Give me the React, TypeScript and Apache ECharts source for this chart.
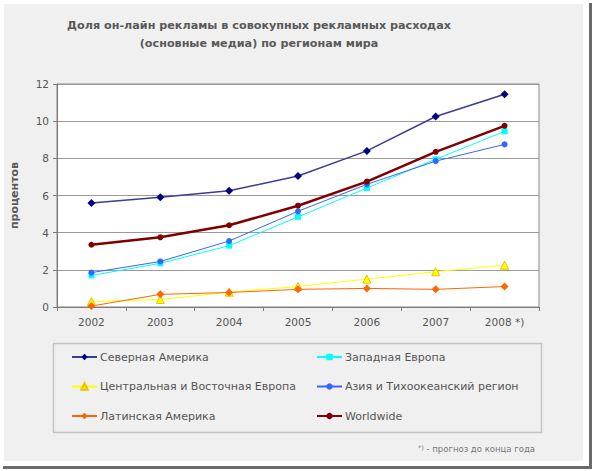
import React, { useEffect, useRef } from "react";
import * as echarts from "echarts";

const categories = ["2002", "2003", "2004", "2005", "2006", "2007", "2008 *)"];
const seriesNames = [
  "Северная Америка",
  "Западная Европа",
  "Центральная и Восточная Европа",
  "Азия и Тихоокеанский регион",
  "Латинская Америка",
  "Worldwide",
];
const northAmerica = [5.6, 5.9, 6.25, 7.05, 8.4, 10.25, 11.45];
const westernEurope = [1.7, 2.35, 3.3, 4.85, 6.4, 7.95, 9.45];
const centralEasternEurope = [0.3, 0.4, 0.8, 1.1, 1.5, 1.9, 2.25];
const asiaPacific = [1.85, 2.45, 3.55, 5.15, 6.6, 7.85, 8.75];
const latinAmerica = [0.05, 0.68, 0.78, 0.95, 1.0, 0.95, 1.1];
const worldwide = [3.35, 3.75, 4.4, 5.45, 6.75, 8.35, 9.75];
const yTicks = { min: 0, max: 12, interval: 2 };

const FONT = "DejaVu Sans";

export default function App() {
  const ref = useRef<HTMLDivElement>(null);
  useEffect(() => {
    document.body.style.margin = "0";
    const chart = echarts.init(ref.current!, null, { renderer: "svg" });
    const mk = (
      name: string,
      data: number[],
      color: string,
      lineColor: string,
      symbol: string,
      size: number,
      width: number,
      borderColor?: string
    ) => ({
      name,
      type: "line",
      data,
      symbol,
      symbolSize: size,
      lineStyle: { color: lineColor, width },
      itemStyle: { color, borderColor: borderColor || color, borderWidth: borderColor ? 1 : 0 },
      emphasis: { disabled: true },
    });
    const rowsY = [357, 386.5, 416];
    const legendItem = (name: string, col: number, row: number) => ({
      data: [name],
      orient: "horizontal",
      left: col === 0 ? 71 : 316,
      top: rowsY[row] - 7,
      padding: 0,
      itemWidth: 25,
      itemHeight: 8,
      textStyle: {
        color: "#555555",
        fontSize: 11,
        lineHeight: 14,
        fontFamily: FONT,
        padding: [0, 0, 0, -2],
      },
      selectedMode: false,
    });
    chart.setOption({
      animation: false,
      backgroundColor: "#ffffff",
      textStyle: { fontFamily: FONT },
      grid: {
        left: 57,
        top: 84,
        width: 482,
        height: 223,
        show: true,
        backgroundColor: "#ffffff",
        borderColor: "#8a8a8a",
        borderWidth: 1,
      },
      xAxis: {
        type: "category",
        data: categories,
        boundaryGap: true,
        axisLine: { lineStyle: { color: "#7a7a7a", width: 1 } },
        axisTick: { show: true, interval: 0, length: 4, lineStyle: { color: "#7a7a7a" } },
        axisLabel: { color: "#555555", fontSize: 10.5, fontFamily: FONT, margin: 9, interval: 0 },
      },
      yAxis: {
        type: "value",
        min: yTicks.min,
        max: yTicks.max,
        interval: yTicks.interval,
        name: "процентов",
        nameLocation: "middle",
        nameGap: 37,
        nameTextStyle: { color: "#595959", fontSize: 11, fontWeight: "bold", fontFamily: FONT },
        axisLine: { show: true, lineStyle: { color: "#7a7a7a", width: 1 } },
        axisTick: { show: true, length: 4, lineStyle: { color: "#7a7a7a" } },
        axisLabel: { color: "#555555", fontSize: 10.5, fontFamily: FONT, margin: 8 },
        splitLine: { show: true, lineStyle: { color: "#9a9a9a", width: 1 } },
      },
      legend: [
        legendItem(seriesNames[0], 0, 0),
        legendItem(seriesNames[1], 1, 0),
        legendItem(seriesNames[2], 0, 1),
        legendItem(seriesNames[3], 1, 1),
        legendItem(seriesNames[4], 0, 2),
        legendItem(seriesNames[5], 1, 2),
      ],
      graphic: [
        {
          type: "rect",
          z: -100,
          silent: true,
          shape: { x: 4, y: 4, width: 579, height: 457 },
          style: { fill: "#f0f0f0" },
        },
        {
          type: "rect",
          z: -100,
          silent: true,
          shape: { x: 589, y: 3, width: 3, height: 466 },
          style: { fill: "#6a6a6a" },
        },
        {
          type: "rect",
          z: -100,
          silent: true,
          shape: { x: 3, y: 466, width: 589, height: 3 },
          style: { fill: "#6a6a6a" },
        },
        {
          type: "rect",
          silent: true,
          shape: { x: 53.5, y: 343.5, width: 488, height: 89 },
          style: { fill: "none", stroke: "#c4c4c4", lineWidth: 1.5 },
        },
        {
          type: "text",
          silent: true,
          x: 259,
          y: 34,
          style: {
            text: "Доля он-лайн рекламы в совокупных рекламных расходах\n(основные медиа) по регионам мира",
            fill: "#595959",
            font: `bold 11.2px "${FONT}"`,
            align: "center",
            verticalAlign: "middle",
            lineHeight: 18,
          },
        },
        {
          type: "text",
          silent: true,
          x: 535,
          y: 449,
          style: {
            text: "{s|*)} - прогноз до конца года",
            align: "right",
            verticalAlign: "middle",
            fill: "#777777",
            font: `8.5px "${FONT}"`,
            rich: {
              s: { fontSize: 6.5, fill: "#777777", verticalAlign: "top", fontFamily: FONT },
            },
          },
        },
      ],
      series: [
        mk(seriesNames[0], northAmerica, "#000080", "#3c3c96", "diamond", 8, 1.5),
        mk(seriesNames[1], westernEurope, "#00ffff", "#00ffff", "rect", 6, 1),
        mk(seriesNames[2], centralEasternEurope, "#ffff00", "#ffff00", "triangle", 8, 1, "#f0c000"),
        mk(seriesNames[3], asiaPacific, "#3366ff", "#3366ff", "circle", 6, 1),
        mk(seriesNames[4], latinAmerica, "#ff6600", "#ff6600", "diamond", 8, 1),
        mk(seriesNames[5], worldwide, "#800000", "#800000", "circle", 6, 2.5),
      ],
    });
    return () => chart.dispose();
  }, []);
  return (
    <div
      ref={ref}
      style={{ position: "absolute", left: 0, top: 0, width: 594, height: 471 }}
    />
  );
}
